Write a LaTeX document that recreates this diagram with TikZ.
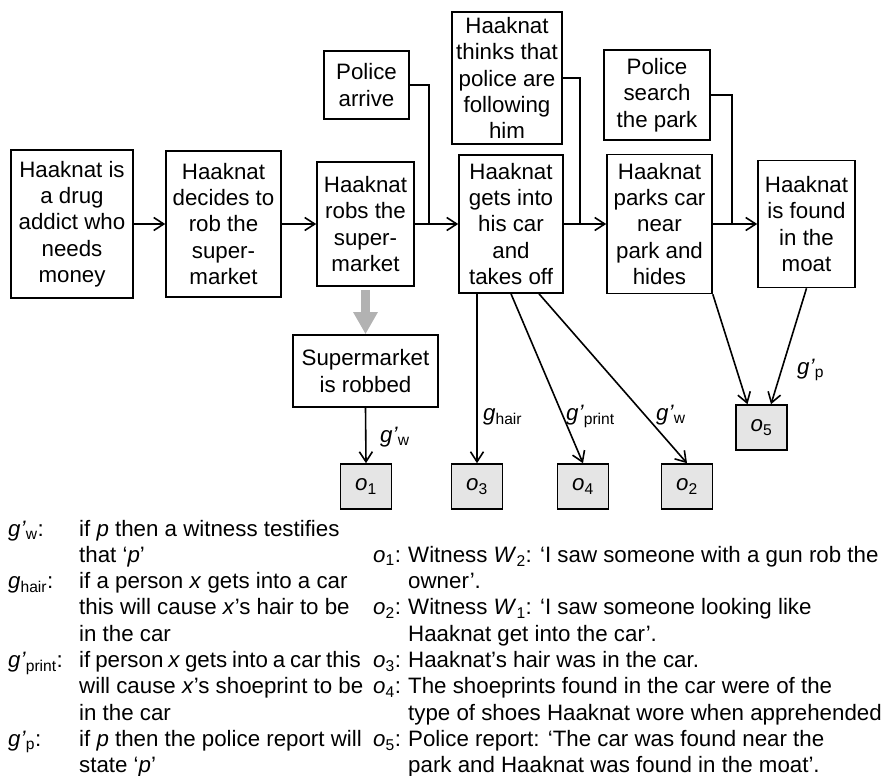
\documentclass[tikz,border=0pt]{standalone}
\usepackage{fontspec}
\setmainfont{Liberation Sans}
\usetikzlibrary{arrows.meta,calc}
\definecolor{obsgray}{gray}{0.90}
\definecolor{derivgray}{gray}{0.70}
\newcommand{\lblgw}{\textit{g’}\textsubscript{w}}
\newcommand{\lblgp}{\textit{g’}\textsubscript{p}}
\newcommand{\lblgprint}{\textit{g’}\textsubscript{print}}
\newcommand{\lblghair}{\textit{g}\textsubscript{hair}}
\newcommand{\obs}[1]{\textit{o}\textsubscript{#1}}
\tikzset{
  every node/.style={font=\fontsize{22.3}{26.3}\selectfont, inner sep=0pt},
  evbox/.style={draw=black, line width=1.6pt, align=center},
  obsbox/.style={draw=black, line width=1.6pt, fill=obsgray,
                 minimum width=51pt, minimum height=45pt},
  flow/.style={line width=1.6pt, -{Straight Barb[length=10pt,width=13pt]}},
  feed/.style={line width=1.6pt},
  derive/.style={line width=9pt, derivgray, shorten <=3pt,
                 -{Triangle[length=22pt,width=23pt]}},
  txt/.style={anchor=base west},
}
\begin{document}
\begin{tikzpicture}[x=1pt,y=-1pt]
\useasboundingbox (0,0) rectangle (887,776);

% main chain of events
\node[evbox, minimum width=122pt, minimum height=148pt] (A) at (72,224)
  {Haaknat is\\a drug\\addict who\\needs\\money};
\node[evbox, minimum width=115pt, minimum height=146pt] (B) at (223.5,224)
  {Haaknat\\decides to\\rob the\\super-\\market};
\node[evbox, minimum width=97pt, minimum height=124pt] (C) at (365.5,224)
  {Haaknat\\robs the\\super-\\market};
\node[evbox, minimum width=104pt, minimum height=138pt] (D) at (511,224)
  {Haaknat\\gets into\\his car\\and\\takes off};
\node[evbox, minimum width=105pt, minimum height=139pt] (E) at (659.5,224)
  {Haaknat\\parks car\\near\\park and\\hides};
\node[evbox, minimum width=97pt, minimum height=127pt] (F) at (806.5,224)
  {Haaknat\\is found\\in the\\moat};

% side events feeding into the chain
\node[evbox, minimum width=85pt, minimum height=68pt] (PA) at (366.5,85)
  {Police\\arrive};
\node[evbox, minimum width=110pt, minimum height=132pt] (TH) at (507,78)
  {Haaknat\\thinks that\\police are\\following\\him};
\node[evbox, minimum width=106pt, minimum height=90pt] (PS) at (657,95)
  {Police\\search\\the park};

\coordinate (j1) at (429,224);
\coordinate (j2) at (580,224);
\coordinate (j3) at (732,224);

\draw[flow] (A) -- (B);
\draw[flow] (B) -- (C);
\draw[flow] (C) -- (D);
\draw[flow] (D) -- (E);
\draw[flow] (E) -- (F);
\draw[feed] (PA.east) -| (j1);
\draw[feed] (TH.east) -| (j2);
\draw[feed] (PS.east) -| (j3);

% derived state
\node[evbox, minimum width=145pt, minimum height=72pt] (S) at (365.5,371)
  {Supermarket\\is robbed};
\draw[derive] (C.south) -- (S.north);

% observations
\node[obsbox] (o1) at (366,486.5) {\obs{1}};
\node[obsbox] (o3) at (477,486.5) {\obs{3}};
\node[obsbox] (o4) at (583,486.5) {\obs{4}};
\node[obsbox] (o2) at (687,486.5) {\obs{2}};
\node[obsbox] (o5) at (761.5,427.5) {\obs{5}};

\draw[flow] (S.south) -- (o1.north);
\draw[flow] (o3.north |- D.south) -- (o3.north);
\draw[flow] (D.south) -- (o4.north);
\draw[flow] ($(D.south)+(28,0)$) -- (o2.north);
\draw[flow] (E.south east) -- ($(o5.north)+(-14,0)$);
\draw[flow] (F.south) -- ($(o5.north)+(9.5,0)$);

% generalisation labels on the arrows
\node[txt] (e1) at (380,442) {\lblgw};
\node[txt] (e2) at (483,420) {\lblghair};
\node[txt] (e3) at (566,420) {\lblgprint};
\node[txt] (e4) at (656,420) {\lblgw};
\node[txt] (e5) at (797,374) {\lblgp};

% legend: generalisations
\node[txt] (k1) at (8,536) {\lblgw:};
\node[txt] (t1) at (79,536) {if \textit{p} then a witness testifies};
\node[txt] (t2) at (79,562.3) {that ‘\textit{p}’};
\node[txt] (k2) at (8,588.6) {\lblghair:};
\node[txt] (t3) at (79,588.6) {if a person \textit{x} gets into a car};
\node[txt] (t4) at (79,614.9) {this will cause \textit{x}’s hair to be};
\node[txt] (t5) at (79,641.2) {in the car};
\node[txt] (k3) at (8,667.5) {\lblgprint:};
\node[txt] (t6) at (79,667.5)
  {\spaceskip=0.22em\relax if person \textit{x} gets into a car this};
\node[txt] (t7) at (79,693.8) {will cause \textit{x}’s shoeprint to be};
\node[txt] (t8) at (79,720.1) {in the car};
\node[txt] (k4) at (8,746.4) {\lblgp:};
\node[txt] (t9) at (79,746.4) {if \textit{p} then the police report will};
\node[txt] (t10) at (79,772.7) {state ‘\textit{p}’};

% legend: observations
\node[txt] (m1) at (373,562.3) {\obs{1}:};
\node[txt] (r1) at (408,562.3) {Witness \textit{W}\textsubscript{2}: ‘I saw someone with a gun rob the};
\node[txt] (r2) at (408,588.6) {owner’.};
\node[txt] (m2) at (373,614.9) {\obs{2}:};
\node[txt] (r3) at (408,614.9) {Witness \textit{W}\textsubscript{1}: ‘I saw someone looking like};
\node[txt] (r4) at (408,641.2) {Haaknat get into the car’.};
\node[txt] (m3) at (373,667.5) {\obs{3}:};
\node[txt] (r5) at (408,667.5) {Haaknat’s hair was in the car.};
\node[txt] (m4) at (373,693.8) {\obs{4}:};
\node[txt] (r6) at (408,693.8) {The shoeprints found in the car were of the};
\node[txt] (r7) at (408,720.1) {type of shoes Haaknat wore when apprehended};
\node[txt] (m5) at (373,746.4) {\obs{5}:};
\node[txt] (r8) at (408,746.4) {Police report: ‘The car was found near the};
\node[txt] (r9) at (408,772.7) {park and Haaknat was found in the moat’.};
\end{tikzpicture}
\end{document}
